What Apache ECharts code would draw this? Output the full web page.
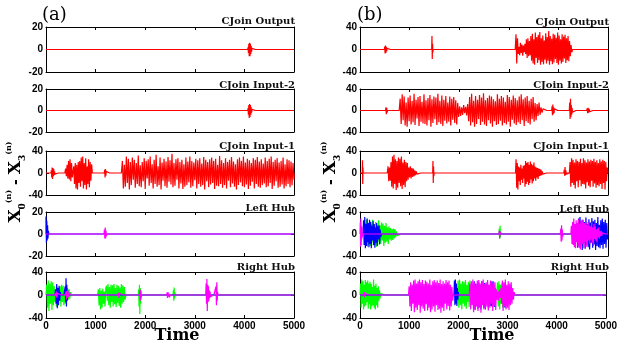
<!DOCTYPE html>
<html><head><meta charset="utf-8">
<script src="https://cdn.jsdelivr.net/npm/echarts/dist/echarts.min.js"></script>
<style>html,body{margin:0;padding:0;background:#fff}#c{width:620px;height:340px}</style>
</head><body><div id="c"></div>
<script>
// ---------- data (time samples: [startTime, sampleStep, values]) ----------
const xTicks = [0, 1000, 2000, 3000, 4000, 5000];
const panelTitles = ['CJoin Output', 'CJoin Input-2', 'CJoin Input-1', 'Left Hub', 'Right Hub'];
const leftRanges = [20, 20, 40, 20, 40];
const rightRanges = [40, 40, 40, 40, 40];

// (a) column
const aOutput = [[4065, 8, [0,2,-3,5,-6,6,-6,5,-4,3,-2,1,0]]];
const aInput2 = [[700, 10, [0,1.5,-1.5,0]], [4065, 8, [0,2,-4,5,-7,6,-6,5,-4,3,-2,1,0]]];
const aInput1 = [
  [100, 8, [0,5,-8,10,-11,9,-6,7,-4,3,-2,0]],
  [380, 15, [0,8,-6,15,-10,22,-12,25,-15,18,-8, -5,12,-20,18,-28,15,-30,20,-18,
             22,-25,28,-15,30,-28,18,-22,27,-30,12,-20,25,-26,20,-14,16,0]],
  [1175, 8, [0,6,-8,7,-5,3,0]],
  [1520, 20, [0,22,-28,15,-25,30,-18,26,-30,20,
              -22,28,-12,24,-27,18,-20,32,-24,14,
              -26,20,-15,27,-29,22,-10,25,-23,30,
              -18,16,-28,24,-20,33,-25,12,-22,28,
              -30,19,-14,26,-24,21,-27,29,-16,23,
              -21,35,-26,18,-23,25,-12,27,-28,20,
              -19,24,-29,16,-25,28,-22,21,-17,30,
              -27,22,-24,19,-13,26,-28,23,-20,27,
              -25,17,-22,29,-30,24,-15,20,-26,25,
              -21,28,-18,22,-29,26,-23,15,-24,31,
              -20,23,-27,18,-22,27,-28,20,-14,24,
              -26,29,-19,21,-25,16,-30,25,-22,28,
              -17,22,-24,30,-26,19,-21,26,-29,23,
              -23,18,-16,27,-28,24,-20,29,-25,21,
              -27,25,-22,17,-19,28,-26,22,-24,26,
              -18,30,-29,20,-23,24,-15,27,-27,19,
              -25,22,-21,28,-28,16,-24,25,-20,23,
              -26,21,-22,18,-12]]
];
const aLeftHubBlue = [[0, 8, [16,-8,12,-6,8,-4,3,0]]];
const aLeftHubMagenta = [[1170, 8, [0,4,-4,6,-4,3,-2,0]], [3530, 10, [0,1.5,-1.5,0]]];
const aRightHubGreen = [
  [0, 15, [0,18,-22,25,-28,20,-15,24,-26,22,-18,15,-12,10,-20,14,-16,12,-8,15,-20,18,-12,16,-18,10,-15,14,-10,12,-8,10,-6,5,0]],
  [1040, 15, [0,10,-18,12,-25,8,-22,11,-15,6,-20,12,16,-10,19,-18,14,-22,18,-12,17,-20,19,-16,12,-21,18,-14,16,-19,13,-22,19,-15,17,-12,14,-8,0]],
  [1860, 8, [0,10,-20,18,-33,12,-15,6,0]],
  [2560, 8, [0,8,-10,13,-6,4,0]]
];
const aRightHubBlue = [
  [180, 12, [0,10,-15,19,-23,12,-18,16,-10,5,0]],
  [380, 8, [0,15,-12,29,-20,18,-10,6,0]]
];
const aRightHubMagenta = [
  [180, 10, [0,4,-5,6,-4,3,0]], [390, 10, [0,6,-8,7,-5,8,-4,3,0]],
  [1450, 10, [0,4,-5,3,0]], [1885, 8, [0,8,-10,9,-6,0]],
  [2430, 10, [0,4,-5,5,-3,2,-4,0]],
  [3220, 8, [0,20,-15,28,-28,18,-12,15,-10,8,-5,6,-3,0]],
  [3420, 8, [0,15,-18,22,-10,5,0]], [4570, 10, [0,3,-1,0]]
];

// (b) column
const bOutput = [
  [490, 8, [0,5,-7,7,-6,5,-3,2,0]],
  [1445, 6, [0,24,-17,10,-5,0]],
  [3130, 15, [0,27,-25,20, -8,5,-10,12,-6,9,-11,7,-5,10,-8, 18,-15,20,-12,15,-10,
              24,-20,28,-25,18,-27,30,-15,22,-24,26,-19,31,-27,20,-22,25,-26,16,-18,29,-25,22,-20,
              33,-27,24,-21,19,-26,28,-23,26,-17,21,-24,30,-27,25,-20,18,-25,27,-22,23,-16,26,-24,
              20,-19,24,-21,15,-12,8,-5,0]]
];
const bInput2 = [
  [515, 8, [0,6,-7,5,-4,0]],
  [690, 10, [0,2,-2,2,-1,0]],
  [790, 20, [0,22,-25,30,-18,26,-28,15,-30,24,-20,28,-26,18,-22,31,-27,20,-15,25,-29,27,-21,16,
             -24,30,-25,19,-28,23,-18,29,-30,21,-23,26,-16,24,-27,31,-22,18,-25,28,-29,20,-19,27,
             -24,15,-21,26,-28,22,-17,25,-23,19,-26,14,-12,
             8,-10,6,-8,10,-5,7,-9,12,
             -20,25,-28,31,-22,18,-30,27,-25,20,-16,29,-27,24,-21,32,-26,19,-29,23,-18,28,-24,26,
             -30,21,-20,17,-27,30,-25,22,-19,27,-28,24,-23,16,-26,29,-21,25,-30,20,-17,28,-24,23,
             -27,19,-22,26,-25,30,-18,21,-29,24,-20,27,-23,18,-26,22,-16,25,-21,14,-18,12,-10,15,
             -8,6,-4,3,0]],
  [3864, 8, [0,8,-9,11,-7,6,-5,3,0]],
  [4220, 8, [0,15,-16,22,-12,10,-8,5,-3,0]],
  [4570, 10, [0,4,-5,5,-4,3,-2,0]]
];
const bInput1 = [
  [45, 5, [0,23,-20,10,0]],
  [550, 15, [0,12,-15,10,-14,20,-25,30,-28,33,-20,25,-31,22,-27,28,-18,26,-24,30,-29,19,-22,24,
             -26,20,-15,18,-12,10,-8,12,-10,9,-7,8,-6,5,-4,3,-2,0]],
  [1465, 6, [0,22,-18,12,-6,0]],
  [3135, 12, [0,25,-27,18, -30,12,-15,10,-22,15,-12,8,-18,13,-10,14,-25,
              22,-20,18,-16,20,-22,15,-18,21,-12,17,-19,14,-15,19,-10,12,-14,10,-8,9,-11,
              8,-6,7,-5,6,-4,3,-2,0]],
  [4110, 8, [0,6,-5,11,-4,5,-2,0]],
  [4220, 15, [0,20,-25,27,-18,24,-22,19,-28,25,-15,22,-26,20,-13,26,-24,18,-20,27,-21,23,-28,19,
              -17,25,-23,21,-26,24,-14,22,-25,26,-19,20,-27,23,-22,18,-24,25,-20,21,-29,24,-18,22,
              -30,20,-15,10]]
];
const bLeftHubGreen = [
  [90, 15, [0,20,-18,27,-23,15,-20,24,-22,18,-15,26,-21,12,-19,22,-23,17,-14,25,-20,16,-18,21,
            -12,19,-22,15,-16,20,-14,12,-18,14,-10,11,-12,9,-11,10,-8,9,-6,5,-3,0]],
  [2800, 8, [0,10,-9,15,-6,5,0]]
];
const bLeftHubBlue = [
  [60, 12, [0,25,-20,31,-26,18,-22,28,-15,20,-24,26,-18,22,-26,15,-12,24,-20,18,-25,12,-16,20,
            -22,14,-10,16,-18,8,-5,0]],
  [4360, 15, [0,20,-25,28,-22,31,-18,24,-29,26,-15,22,-27,30,-20,18,-24,27,-28,21,-16,29,-25,23,
              -19,26,-29,20,-22,31,-24,17,-26,25,-20,28,-27,22,-18,26,-25,20,-10]]
];
const bLeftHubMagenta = [
  [0, 6, [0,22,-23,28,-20,15,-10,12,-6,0]],
  [2800, 8, [0,6,-7,5,0]],
  [4040, 8, [0,10,-14,16,-12,8,-5,0]],
  [4250, 12, [0,15,-18,22,-20,28,-24,18,-26,25,-15,20,-22,27,-25,19,-28,24,-20,26,-18,22,-26,20,
              -14,25,-23,17,-20,22,-12,15,-18,14,-10,20,-16,12,-22,18,-9,14,-12,8,-15,10,-6,12,
              -8,5,-4,6,-3,2,0]]
];
const bRightHubGreen = [
  [0, 12, [0,20,-22,27,-15,24,-25,18,-20,26,-18,22,-12,25,-24,20,-16,23,-25,19,-20,14,-18,27,
           -22,16,-25,20,-18,12,-22,15,-10,8,-6,3,0]],
  [1980, 15, [0,25,-22,27,-18,20,-25,24,-15,22,-20,26,-24,18,-12,23,-21,25,-19,16,-14,8,0]],
  [2780, 15, [0,22,-20,24,-25,18,-15,21,-22,16,-12,20,-18,8,0]]
];
const bRightHubBlue = [
  [1910, 10, [0,25,-18,27,-15,20,-19,12,-8,5,0]],
  [2280, 15, [0,18,-22,24,-25,20,-18,15,-24,22,-20,17,-25,24,-16,19,-22,21,-25,18,-14,20,-23,16,
              -19,22,-20,24,-15,18,-21,12,-8,5,0]],
  [2910, 10, [0,15,-20,18,-22,10,-12,5,0]]
];
const bRightHubMagenta = [
  [80, 8, [0,5,-4,3,0]],
  [985, 15, [0,15,-20,22,-28,18,-15,25,-30,27,-22,20,-26,24,-18,27,-31,22,-20,26,-24,19,-28,25,
             -16,23,-27,20,-22,27,-30,18,-25,24,-20,26,-29,22,-18,25,-26,21,-24,27,-31,19,-22,24,
             -28,20,-15,26,-25,22,-19,25,-27,18,-20,14,-10,0]],
  [2220, 15, [0,20,-25,24,-18,27,-30,22,-26,18,-20,25,-28,26,-22,20,-31,24,-18,27,-25,19,-24,22,
              -20,26,-27,18,-22,25,-15,20,-28,24,-19,22,-26,10,-8,6,-10,8,-5,12,-15,25,-28,22,
              -20,27,-25,18,-22,24,-26,20,-18,22,-15,12,-8,5,0]],
  [4260, 10, [0,3,-3,0]]
];

// ---------- build ----------
const RED = '#ff0000', GREEN = '#00ff00', BLUE = '#0000ff', MAGENTA = '#ff00ff';
const panels = [
  [[aOutput, RED]], [[aInput2, RED]], [[aInput1, RED]],
  [[aLeftHubBlue, BLUE], [aLeftHubMagenta, MAGENTA]],
  [[aRightHubGreen, GREEN], [aRightHubBlue, BLUE], [aRightHubMagenta, MAGENTA]],
  [[bOutput, RED]], [[bInput2, RED]], [[bInput1, RED]],
  [[bLeftHubGreen, GREEN], [bLeftHubBlue, BLUE], [bLeftHubMagenta, MAGENTA]],
  [[bRightHubGreen, GREEN], [bRightHubBlue, BLUE], [bRightHubMagenta, MAGENTA]]
];
function toData(bursts) {
  const d = [[0, 0]];
  bursts.forEach(([t0, dt, vals]) => {
    if (t0 > 60) d.push([t0 - 60, 0]);
    let last = t0;
    vals.forEach((v, i) => { const t = t0 + i * dt; if (t <= 5000) { d.push([t, v]); last = t; } });
    if (last + 60 < 5000) d.push([last + 60, 0]);
  });
  d.push([5000, 0]);
  return d;
}

const colLeft = [46, 360], plotW = 248;
const rowTop = [27, 89, 151, 212, 272], rowH = [45, 43, 44, 44, 46];
const titleTop = [[16, 80, 141, 203, 262], [17, 80, 141, 204, 262]];
const grid = [], xAxis = [], yAxis = [], series = [], title = [];
const tickStyle = { show: true, inside: true, length: 3, lineStyle: { color: '#000', width: 1 } };
const lineStyleAx = { show: true, onZero: false, lineStyle: { color: '#000', width: 1 } };
const lblFont = { fontFamily: 'Liberation Sans, Arial, sans-serif', fontWeight: 'bold', fontSize: 10, color: '#000' };
const plain = v => String(v);

for (let c = 0; c < 2; c++) {
  for (let r = 0; r < 5; r++) {
    const g = c * 5 + r;
    const R = (c === 0 ? leftRanges : rightRanges)[r];
    grid.push({ left: colLeft[c], width: plotW, top: rowTop[r], height: rowH[r], show: false });
    xAxis.push({ type: 'value', gridIndex: g, min: xTicks[0], max: xTicks[xTicks.length - 1], interval: xTicks[1] - xTicks[0],
      position: 'bottom', axisLine: lineStyleAx, axisTick: tickStyle, splitLine: { show: false },
      axisLabel: Object.assign({ show: r === 4, margin: 3, showMinLabel: true, showMaxLabel: true, formatter: plain }, lblFont) });
    xAxis.push({ type: 'value', gridIndex: g, min: xTicks[0], max: xTicks[xTicks.length - 1], interval: xTicks[1] - xTicks[0],
      position: 'top', axisLine: lineStyleAx, axisTick: tickStyle, splitLine: { show: false }, axisLabel: { show: false } });
    yAxis.push({ type: 'value', gridIndex: g, min: -R, max: R, interval: R, position: 'left',
      axisLine: lineStyleAx, axisTick: tickStyle, splitLine: { show: false },
      axisLabel: Object.assign({ margin: 3, showMinLabel: true, showMaxLabel: true, formatter: plain }, lblFont) });
    yAxis.push({ type: 'value', gridIndex: g, min: -R, max: R, interval: R, position: 'right',
      axisLine: lineStyleAx, axisTick: tickStyle, splitLine: { show: false }, axisLabel: { show: false } });
    panels[g].forEach(([bursts, color]) => {
      series.push({ type: 'line', xAxisIndex: g * 2, yAxisIndex: g * 2, data: toData(bursts),
        showSymbol: false, symbol: 'none', animation: false, silent: true, sampling: null,
        lineStyle: { color: color, width: 1.2 }, clip: true, z: 2 });
    });
    title.push({ text: panelTitles[r], right: 620 - (colLeft[c] + plotW) - 1, top: titleTop[c][r], padding: 0,
      textStyle: { fontFamily: 'DejaVu Serif', fontWeight: 'bold', fontSize: 10, color: '#111' } });
  }
}

const yLabelRich = {
  X: { fontFamily: 'DejaVu Serif', fontWeight: 'bold', fontSize: 17, color: '#000', verticalAlign: 'middle' },
  s: { fontFamily: 'DejaVu Serif', fontWeight: 'bold', fontSize: 9, color: '#000', verticalAlign: 'bottom' },
  u: { fontFamily: 'DejaVu Serif', fontWeight: 'bold', fontSize: 8, color: '#000', verticalAlign: 'top' },
  m: { fontFamily: 'DejaVu Serif', fontWeight: 'bold', fontSize: 14, color: '#000', verticalAlign: 'middle' }
};
const yLabelText = '{X|X}{s|0}{u|(n)}{m| - }{X|X}{s|3}{u|(n)}';
const graphic = [];
[[16, 182], [331, 182]].forEach(([x, y]) => {
  graphic.push({ type: 'text', x: x, y: y, rotation: Math.PI / 2,
    style: { text: yLabelText, rich: yLabelRich, align: 'center', verticalAlign: 'middle', lineHeight: 22 } });
});
[[177, 328], [492, 328]].forEach(([x, y]) => {
  graphic.push({ type: 'text', x: x, y: y, style: { text: 'Time', font: 'bold 16px "DejaVu Serif"', fill: '#000', align: 'center', verticalAlign: 'top' } });
});
[['(a)', 42], ['(b)', 357]].forEach(([t, x]) => {
  graphic.push({ type: 'text', x: x, y: 6, style: { text: t, font: '18px "DejaVu Serif"', fill: '#000', align: 'left', verticalAlign: 'top' } });
});

const chart = echarts.init(document.getElementById('c'), null, { renderer: 'canvas', width: 620, height: 340 });
chart.setOption({ animation: false, backgroundColor: '#fff', title, grid, xAxis, yAxis, series, graphic });
</script>
</body></html>
